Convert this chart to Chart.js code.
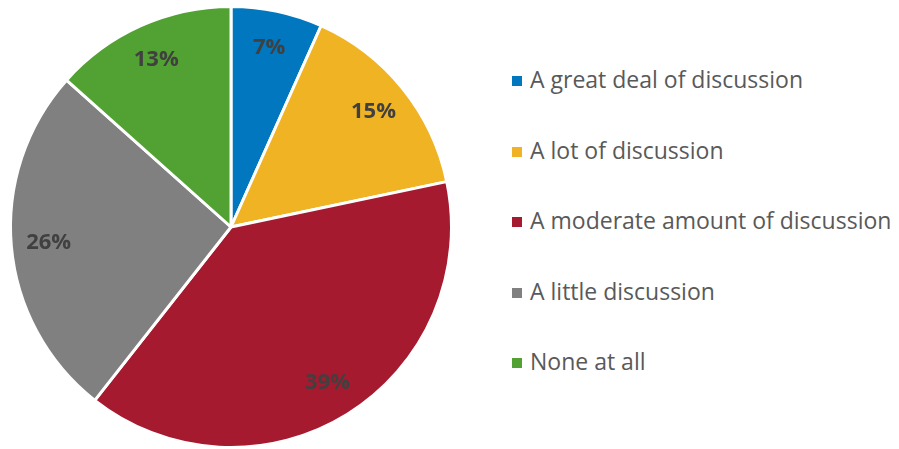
<!DOCTYPE html>
<html>
<head>
<meta charset="utf-8">
<script src="https://cdn.jsdelivr.net/npm/chart.js@4/dist/chart.umd.min.js"></script>
<style>
  body { margin: 0; background: #fff; }
  #wrap { position: relative; width: 899px; height: 449px; }
  #pieBox { position: absolute; left: 0; top: 0; width: 462px; height: 449px; }
  #legend { position: absolute; left: 0; top: 0; }
  .item { position: absolute; left: 512px; white-space: nowrap; font-family: "Open Sans", sans-serif; font-size: 23px; color: #595959; line-height: 28px; }
  .item span { display: inline-block; width: 10px; height: 10px; margin-right: 8px; vertical-align: 2px; }
</style>
</head>
<body>
<div id="wrap">
  <div id="pieBox"><canvas id="pieChart"></canvas></div>
  <div id="legend"></div>
</div>
<script>
const categories = [
  "A great deal of discussion",
  "A lot of discussion",
  "A moderate amount of discussion",
  "A little discussion",
  "None at all",
];
const shares = [6.7, 15.0, 38.9, 26.0, 13.4];
const shareLabels = ["7%", "15%", "39%", "26%", "13%"];
const colors = ["#0077BE", "#EFB324", "#A51A2F", "#808080", "#52A133"];

// percentage labels inside each slice
const sliceLabels = {
  id: "sliceLabels",
  afterDatasetsDraw(chart) {
    const ctx = chart.ctx;
    const meta = chart.getDatasetMeta(0);
    ctx.save();
    ctx.font = "bold 22px 'Open Sans', sans-serif";
    ctx.fillStyle = "#404040";
    ctx.textAlign = "center";
    ctx.textBaseline = "middle";
    meta.data.forEach((arc, i) => {
      const mid = (arc.startAngle + arc.endAngle) / 2;
      const r = arc.outerRadius * 0.83;
      ctx.fillText(shareLabels[i], arc.x + Math.cos(mid) * r, arc.y + Math.sin(mid) * r);
    });
    ctx.restore();
  },
};

const ctx = document.getElementById("pieChart").getContext("2d");
new Chart(ctx, {
  type: "pie",
  data: {
    labels: categories,
    datasets: [
      {
        data: shares,
        backgroundColor: colors,
        borderColor: "#ffffff",
        borderWidth: 3,
      },
    ],
  },
  options: {
    responsive: true,
    maintainAspectRatio: false,
    animation: false,
    layout: { padding: { top: 5, bottom: 0 } },
    plugins: {
      legend: { display: false },
      tooltip: { enabled: false },
    },
  },
  plugins: [sliceLabels],
});

// legend on the right
const legend = document.getElementById("legend");
categories.forEach((name, i) => {
  const div = document.createElement("div");
  div.className = "item";
  div.style.top = 79 + i * 70.5 - 14 + "px";
  div.innerHTML = `<span style="background:${colors[i]}"></span>${name}`;
  legend.appendChild(div);
});
</script>
</body>
</html>
